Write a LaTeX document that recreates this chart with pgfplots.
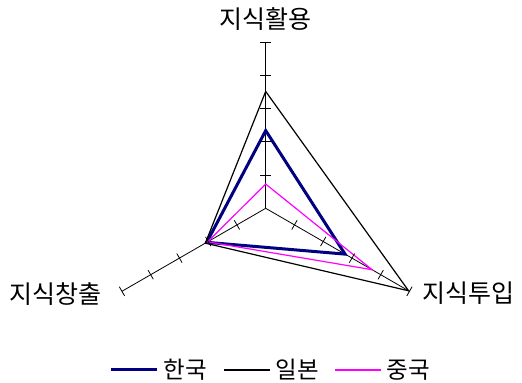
\documentclass[border=0pt]{standalone}
\usepackage{fontspec}
\setmainfont{Noto Sans CJK KR}
\usepackage{pgfplots}
\pgfplotsset{compat=1.18}
\usepgfplotslibrary{polar}
\definecolor{korea}{RGB}{0,0,128}
\definecolor{china}{RGB}{255,0,255}

% spoke with tick marks, angle as argument
\pgfplotsset{
  spoke/.style={black, line width=0.8bp, forget plot, data cs=polar,
    mark=|, mark size=5.3bp, mark indices={2,3,4,5,6},
    mark options={rotate=#1, solid, line width=0.8bp}},
}

\begin{document}
\begin{tikzpicture}
\begin{axis}[
    x=33.2bp, y=33.2bp,
    xmin=-5.5, xmax=5.5, ymin=-5.2, ymax=5.5,
    hide axis, clip=false,
    legend columns=3,
    legend style={draw=none, fill=none, font=\fontsize{23.5bp}{26bp}\selectfont,
      at={(axis cs:0.13,-4.87)}, anchor=center,
      nodes={inner sep=0pt},
      /tikz/every odd column/.append style={column sep=5bp},
      /tikz/every even column/.append style={column sep=16bp},
      inner sep=0pt},
    legend image code/.code={\draw[#1] (0bp,0bp) -- (46bp,0bp);},
]
\coordinate (c) at (axis cs:0,0);
% axes (지식활용, 지식투입, 지식창출)
\addplot[spoke=90]  coordinates {(90,0) (90,1) (90,2) (90,3) (90,4) (90,5)};
\addplot[spoke=-30] coordinates {(-30,0) (-30,1) (-30,2) (-30,3) (-30,4) (-30,5)};
\addplot[spoke=210] coordinates {(210,0) (210,1) (210,2) (210,3) (210,4) (210,5)};

% series
\addplot[korea, line width=3bp, data cs=polar, line join=miter]
  coordinates {(90,2.34) (-30,2.76) (210,2.05) (90,2.34)} -- cycle;
\addlegendentry{한국}
\addplot[black, line width=1.2bp, data cs=polar]
  coordinates {(90,3.52) (-30,4.97) (210,2.1) (90,3.52)} -- cycle;
\addlegendentry{일본}
\addplot[china, line width=1.2bp, data cs=polar]
  coordinates {(90,0.73) (-30,3.7) (210,2.02) (90,0.73)} -- cycle;
\addlegendentry{중국}

\begin{scope}[font=\fontsize{25bp}{28bp}\selectfont, inner sep=0pt]
\node[anchor=center] at (axis cs:0,5.70) {지식활용};
\node[anchor=west] at (axis cs:4.72,-2.57) {지식투입};
\node[anchor=east] at (axis cs:-4.94,-2.57) {지식창출};
\end{scope}
\end{axis}
\pgfresetboundingbox
\path[use as bounding box] ([shift={(-265.7bp,-174.7bp)}]c) rectangle ([shift={(256.3bp,208.3bp)}]c);
\end{tikzpicture}
\end{document}
